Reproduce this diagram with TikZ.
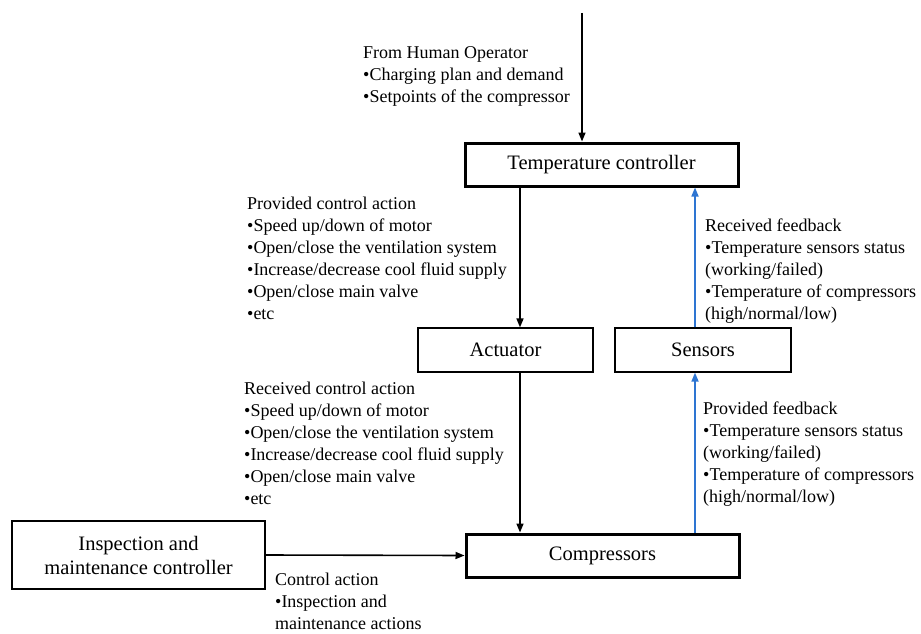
\documentclass[tikz,border=0pt]{standalone}
\usepackage{fontspec}
\setmainfont{Liberation Serif}
\usetikzlibrary{arrows.meta}

\definecolor{fbblue}{RGB}{46,117,210}

\tikzset{
  ctrlbox/.style={draw, line width=3pt, inner sep=0pt, minimum width=273pt, minimum height=43pt, font=\fontsize{20.5}{24}\selectfont},
  partbox/.style={draw, line width=1.2pt, inner sep=0pt, minimum width=175pt, minimum height=44pt, font=\fontsize{20.5}{24}\selectfont},
  note/.style={anchor=north west, align=left, inner sep=0pt, font=\fontsize{18}{22}\selectfont},
  cmd/.style={line width=1.6pt, -{Triangle[length=9pt,width=7pt]}},
  feedback/.style={cmd, draw=fbblue, fill=fbblue}
}

\begin{document}
\begin{tikzpicture}[x=1pt,y=-1pt]
\useasboundingbox (0,0) rectangle (921,634);

% boxes
\node[ctrlbox] (tc) at (601.5,164.5) {Temperature controller};
\node[partbox] (act) at (505.5,350) {Actuator};
\node[partbox, minimum width=176pt] (sens) at (703,350) {Sensors};
\node[ctrlbox] (comp) at (602.5,555.5) {Compressors};
\node[ctrlbox, line width=2pt, minimum width=253pt, minimum height=68pt, align=center] (insp) at (138.5,555) {Inspection and\\maintenance controller};

% lines
\coordinate (operator) at (582,13);
\coordinate (cmdline) at (520,0);
\coordinate (fbline) at (695,0);

\draw[cmd] (operator) -- (tc.north -| operator);
\draw[cmd] (tc.south -| cmdline) -- (act.north -| cmdline);
\draw[cmd] (act.south -| cmdline) -- (comp.north -| cmdline);
\draw[cmd] (insp.east) -- (comp.west);
\draw[feedback] (comp.north -| fbline) -- (sens.south -| fbline);
\draw[feedback] (sens.north -| fbline) -- (tc.south -| fbline);

% texts
\node[note] (human) at (363,43) {\strut From Human Operator\\•Charging plan and demand\\•Setpoints of the compressor};
\node[note] (provctrl) at (247,194) {\strut Provided control action\\•Speed up/down of motor\\•Open/close the ventilation system\\•Increase/decrease cool fluid supply\\•Open/close main valve\\•etc};
\node[note] (recvctrl) at (244,379) {\strut Received control action\\•Speed up/down of motor\\•Open/close the ventilation system\\•Increase/decrease cool fluid supply\\•Open/close main valve\\•etc};
\node[note] (recvfb) at (705,216) {\strut Received feedback\\•Temperature sensors status\\(working/failed)\\•Temperature of compressors\\(high/normal/low)};
\node[note] (provfb) at (703,399) {\strut Provided feedback\\•Temperature sensors status\\(working/failed)\\•Temperature of compressors\\(high/normal/low)};
\node[note] (inspact) at (275,570) {\strut Control action\\•Inspection and\\maintenance actions};

\end{tikzpicture}
\end{document}
